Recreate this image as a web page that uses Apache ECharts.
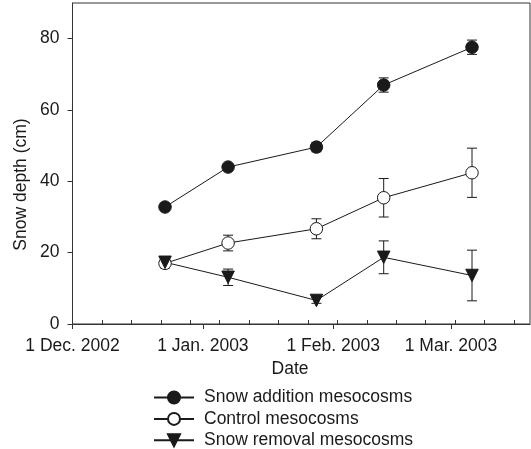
<!DOCTYPE html>
<html>
<head>
<meta charset="utf-8">
<script src="https://cdn.jsdelivr.net/npm/echarts@6/dist/echarts.min.js"></script>
<style>
html,body{margin:0;padding:0;background:#fff;}
#c{width:531px;height:449px;}
</style>
</head>
<body>
<div id="c"></div>
<script>
// ---- data ----
var sampleDates = ['2002-12-23', '2003-01-07', '2003-01-28', '2003-02-13', '2003-03-06'];
var additionMean = [32.8, 44.0, 49.6, 67.0, 77.6];
var additionSE   = [0.6, 0.8, 1.3, 2.0, 2.0];
var controlMean  = [17.0, 22.7, 26.7, 35.4, 42.4];
var controlSE    = [1.3, 2.2, 2.8, 5.4, 6.9];
var removalMean  = [17.3, 13.1, 6.6, 18.7, 13.6];
var removalSE    = [1.0, 2.3, 0.8, 4.6, 7.1];
var seriesNames  = ['Snow addition mesocosms', 'Control mesocosms', 'Snow removal mesocosms'];
var xTickDates   = ['2002-12-01', '2003-01-01', '2003-02-01', '2003-03-01'];
var xTickLabels  = ['1 Dec. 2002', '1 Jan. 2003', '1 Feb. 2003', '1 Mar. 2003'];
var xMinorDates  = ['2002-12-08', '2002-12-15', '2002-12-22', '2002-12-29', '2003-01-05',
                    '2003-01-12', '2003-01-19', '2003-01-26', '2003-02-02', '2003-02-09',
                    '2003-02-16', '2003-02-23', '2003-03-02', '2003-03-09', '2003-03-16'];
var yTicks       = [0, 20, 40, 60, 80];
var xMinDate = '2002-12-01';
var xMaxDate = '2003-03-19T19:00';
var yMin = 0, yMax = 90;

function ts(s) {
  var p = s.split('T');
  var d = p[0].split('-').map(Number);
  var h = 0, m = 0;
  if (p[1]) { var t = p[1].split(':').map(Number); h = t[0]; m = t[1]; }
  return Date.UTC(d[0], d[1] - 1, d[2], h, m);
}
var xs = sampleDates.map(ts);
var majorTs = xTickDates.map(ts);
var minorTs = xMinorDates.map(ts);

function pairs(means) { return means.map(function (v, i) { return [xs[i], v]; }); }
function errs(means, se) { return means.map(function (v, i) { return [xs[i], v - se[i], v + se[i]]; }); }

var FONT = '"Liberation Sans", Arial, Helvetica, sans-serif';
var INK = '#1a1a1a';
var FS = 17.5;

function errorSeries(data) {
  return {
    type: 'custom',
    xAxisIndex: 0,
    z: 1,
    silent: true,
    data: data,
    encode: { x: 0, y: [1, 2] },
    renderItem: function (params, api) {
      var x = api.value(0);
      var lo = api.coord([x, api.value(1)]);
      var hi = api.coord([x, api.value(2)]);
      var hw = 5;
      var st = { stroke: INK, lineWidth: 1 };
      return {
        type: 'group',
        children: [
          { type: 'line', shape: { x1: lo[0], y1: lo[1], x2: hi[0], y2: hi[1] }, style: st },
          { type: 'line', shape: { x1: lo[0] - hw, y1: lo[1], x2: lo[0] + hw, y2: lo[1] }, style: st },
          { type: 'line', shape: { x1: hi[0] - hw, y1: hi[1], x2: hi[0] + hw, y2: hi[1] }, style: st }
        ]
      };
    }
  };
}

function lineSeries(name, data, symbol, fill, rotate) {
  return {
    name: name,
    type: 'line',
    xAxisIndex: 0,
    z: 3,
    data: data,
    symbol: symbol,
    symbolSize: 12.5,
    symbolRotate: rotate || 0,
    showAllSymbol: true,
    lineStyle: { color: INK, width: 1 },
    itemStyle: { color: fill, borderColor: INK, borderWidth: 1, opacity: 1 },
    emphasis: { disabled: true }
  };
}

var chart = echarts.init(document.getElementById('c'), null, { renderer: 'canvas' });
chart.setOption({
  animation: false,
  backgroundColor: '#fff',
  textStyle: { fontFamily: FONT },
  grid: {
    left: 72.5, top: 3, right: 1, bottom: 125,
    show: true, borderColor: '#333', borderWidth: 1, backgroundColor: 'transparent'
  },
  xAxis: [{
    type: 'value',
    min: ts(xMinDate), max: ts(xMaxDate),
    splitLine: { show: false },
    axisLine: { show: true, lineStyle: { color: '#333', width: 1 } },
    axisTick: { show: true, inside: false, length: 5, lineStyle: { color: '#333' }, customValues: majorTs },
    axisLabel: {
      show: true, margin: 13, color: INK, fontSize: FS, fontFamily: FONT,
      customValues: majorTs,
      formatter: function (v) { var i = majorTs.indexOf(v); return i >= 0 ? xTickLabels[i] : ''; }
    }
  }, {
    type: 'value',
    position: 'bottom',
    min: ts(xMinDate), max: ts(xMaxDate),
    splitLine: { show: false },
    axisLine: { show: false },
    axisTick: { show: true, inside: true, length: 4, lineStyle: { color: '#333' }, customValues: minorTs },
    axisLabel: { show: false }
  }],
  yAxis: {
    type: 'value',
    min: yMin, max: yMax,
    splitLine: { show: false },
    axisLine: { show: true, lineStyle: { color: '#333', width: 1 } },
    axisTick: { show: true, inside: false, length: 5, lineStyle: { color: '#333' }, customValues: yTicks },
    axisLabel: { show: true, margin: 13, color: INK, fontSize: FS, fontFamily: FONT, customValues: yTicks }
  },
  legend: {
    orient: 'vertical',
    left: 153, top: 388.5,
    width: 360, height: 90,
    itemWidth: 40, itemHeight: 15, itemGap: 3.4,
    padding: 0,
    data: seriesNames,
    selectedMode: false,
    textStyle: { color: INK, fontSize: FS, fontFamily: FONT, padding: [0, 0, 0, 5] }
  },
  graphic: [
    { type: 'text', x: 290, y: 369, silent: true,
      style: { text: 'Date', fill: INK, font: FS + 'px ' + FONT, textAlign: 'center', textVerticalAlign: 'middle' } },
    { type: 'text', x: 21, y: 184.5, rotation: Math.PI / 2, silent: true,
      style: { text: 'Snow depth (cm)', fill: INK, font: FS + 'px ' + FONT, textAlign: 'center', textVerticalAlign: 'middle' } }
  ],
  series: [
    errorSeries(errs(additionMean, additionSE)),
    errorSeries(errs(controlMean, controlSE)),
    errorSeries(errs(removalMean, removalSE)),
    lineSeries(seriesNames[0], pairs(additionMean), 'circle', INK),
    lineSeries(seriesNames[1], pairs(controlMean), 'circle', '#fff'),
    lineSeries(seriesNames[2], pairs(removalMean), 'triangle', INK, 180)
  ]
});
</script>
</body>
</html>
